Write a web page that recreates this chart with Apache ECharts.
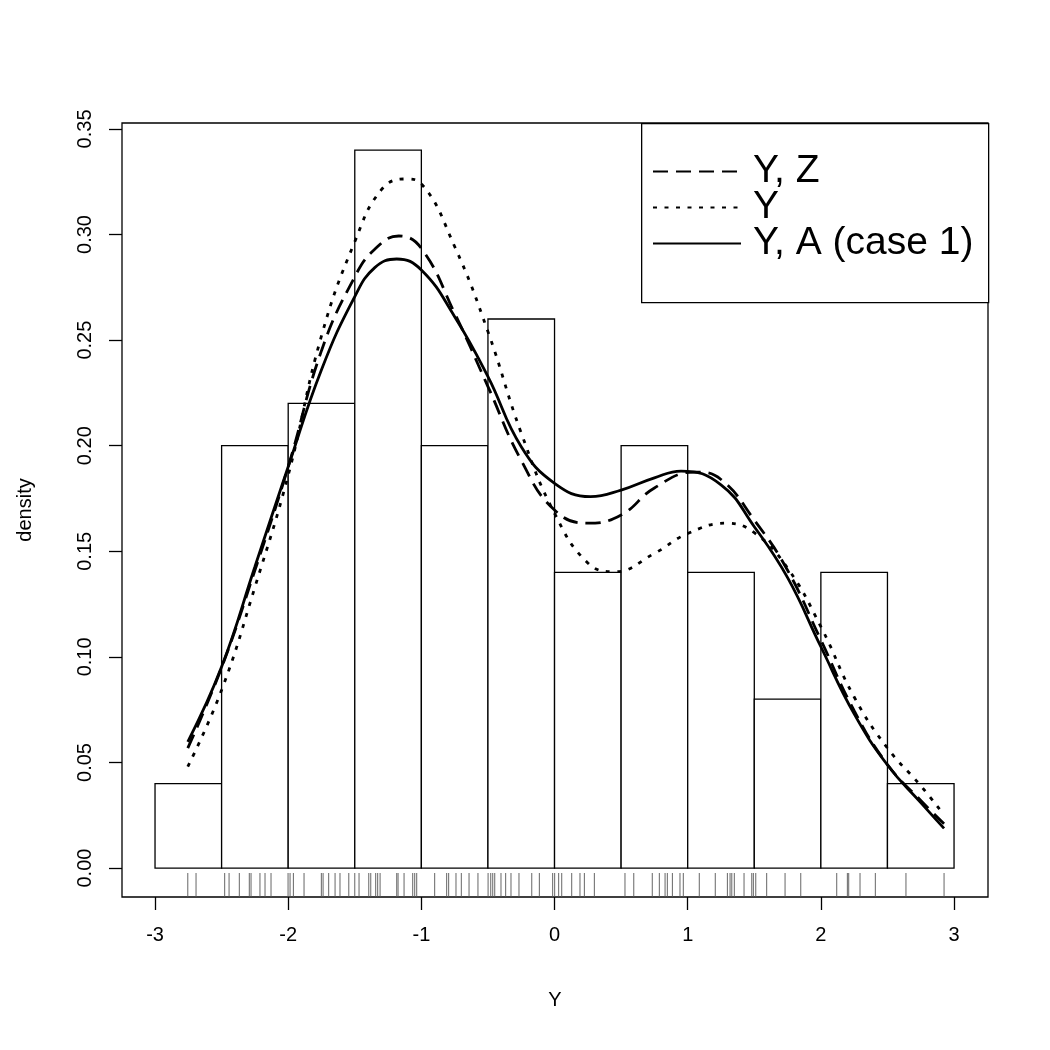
<!DOCTYPE html>
<html><head><meta charset="utf-8">
<script src="https://cdn.jsdelivr.net/npm/echarts@6/dist/echarts.min.js"></script>
<style>html,body{margin:0;padding:0;background:#fff}#c{width:1050px;height:1050px}</style>
</head><body><div id="c"></div>
<script>
// Histogram bins (left edges), width and density heights
const binStarts = [-3, -2.5, -2, -1.5, -1, -0.5, 0, 0.5, 1, 1.5, 2, 2.5];
const binWidth = 0.5;
const densities = [0.04, 0.20, 0.22, 0.34, 0.20, 0.26, 0.14, 0.20, 0.14, 0.08, 0.14, 0.04];

// Rug observations
const rugX = [-2.754, -2.692, -2.477, -2.444, -2.367, -2.292, -2.279, -2.212, -2.174, -2.129,
  -2.001, -1.986, -1.961, -1.881, -1.751, -1.738, -1.696, -1.648, -1.611, -1.545, -1.500,
  -1.468, -1.395, -1.380, -1.343, -1.328, -1.310, -1.185, -1.175, -1.130, -1.065, -1.050, -1.035,
  -0.900, -0.810, -0.795, -0.740, -0.700, -0.642, -0.575, -0.499, -0.479, -0.464, -0.449,
  -0.402, -0.367, -0.327, -0.267, -0.171, -0.114, -0.014, 0.001, 0.031, 0.054, 0.129, 0.191,
  0.224, 0.299, 0.529, 0.595, 0.734, 0.787, 0.830, 0.847, 0.885, 0.942, 0.967,
  1.087, 1.207, 1.298, 1.318, 1.331, 1.350, 1.423, 1.481, 1.493, 1.511, 1.593, 1.731, 1.849,
  2.119, 2.199, 2.209, 2.294, 2.409, 2.639, 2.925];

// Density curves (x positions and densities)
const xYZ = [-2.754, -2.5, -2.25, -2, -1.75, -1.5, -1.35, -1.17, -1, -0.75, -0.5, -0.25, 0,
  0.25, 0.5, 0.75, 1.05, 1.25, 1.5, 1.75, 2, 2.25, 2.5, 2.75, 2.925];
const densYZ = [0.0568, 0.095, 0.141, 0.190, 0.245, 0.280, 0.2930, 0.2993, 0.2934, 0.2627, 0.2280,
  0.1930, 0.1695, 0.1633, 0.1672, 0.1800, 0.1875, 0.1840, 0.1648, 0.1410, 0.108, 0.0745, 0.0490, 0.0320, 0.021];

const xY = [-2.754, -2.5, -2.25, -2, -1.75, -1.5, -1.3, -1.12, -1, -0.75, -0.5, -0.25, 0,
  0.25, 0.45, 0.75, 1, 1.29, 1.5, 1.75, 2, 2.25, 2.5, 2.75, 2.925];
const densY = [0.048, 0.0843, 0.133, 0.186, 0.252, 0.2966, 0.3212, 0.3263, 0.3240, 0.2943, 0.2540,
  0.2060, 0.1680, 0.1445, 0.1403, 0.1490, 0.1584, 0.1633, 0.1588, 0.1420, 0.1143, 0.0810, 0.0568, 0.0390, 0.0251];

const xYA = [-2.754, -2.5, -2.25, -2, -1.75, -1.5, -1.35, -1.185, -1, -0.75, -0.5, -0.25, 0,
  0.27, 0.5, 0.75, 0.95, 1.25, 1.5, 1.75, 2, 2.25, 2.5, 2.75, 2.925];
const densYA = [0.0598, 0.0953, 0.1427, 0.190, 0.236, 0.2706, 0.2843, 0.2884, 0.2832, 0.2611, 0.2327,
  0.1995, 0.1822, 0.1759, 0.1790, 0.1848, 0.1880, 0.1815, 0.1616, 0.1375, 0.1048, 0.0730, 0.0488, 0.0310, 0.0188];

const xTicks = [-3, -2, -1, 0, 1, 2, 3];
const yTicks = [0, 0.05, 0.10, 0.15, 0.20, 0.25, 0.30, 0.35];
const seriesNames = ['Y, Z', 'Y', 'Y, A (case 1)'];

const X_MIN = -3.248, X_MAX = 3.255, Y_MIN = -0.0137, Y_MAX = 0.3528;
const FONT = 'Liberation Sans, Arial, Helvetica, sans-serif';

const histData = binStarts.map((b, i) => [b, b + binWidth, densities[i]]);
const zip = (xs, ys) => xs.map((x, i) => [x, ys[i]]);

const chart = echarts.init(document.getElementById('c'), null, {renderer: 'canvas'});
chart.setOption({
  animation: false,
  backgroundColor: '#fff',
  textStyle: {fontFamily: FONT},
  grid: {left: 122, top: 123, width: 866, height: 774, show: true, borderColor: '#000', borderWidth: 1.3, backgroundColor: 'transparent'},
  graphic: [{
    type: 'rect', left: 641, top: 123, z: 50,
    shape: {width: 347, height: 179},
    style: {fill: '#fff', stroke: '#000', lineWidth: 1.3}
  }],
  legend: {
    orient: 'vertical', left: 652, top: 152, z: 60, padding: 0,
    itemWidth: 88, itemHeight: 20, itemGap: -3,
    itemStyle: {opacity: 0},
    textStyle: {fontSize: 39, color: '#000', fontFamily: FONT, padding: [0, 0, 0, 7]},
    data: seriesNames
  },
  xAxis: {
    type: 'value', min: X_MIN, max: X_MAX,
    name: 'Y', nameLocation: 'middle', nameGap: 93,
    nameTextStyle: {fontSize: 20, color: '#000', fontFamily: FONT},
    axisLine: {show: false, onZero: false},
    splitLine: {show: false},
    axisTick: {show: true, length: 13, customValues: xTicks, lineStyle: {color: '#000', width: 1.3}},
    axisLabel: {customValues: xTicks, margin: 28, fontSize: 20, color: '#000', fontFamily: FONT,
      formatter: v => String(v)}
  },
  yAxis: {
    type: 'value', min: Y_MIN, max: Y_MAX,
    name: 'density', nameLocation: 'middle', nameGap: 87, nameRotate: 90,
    nameTextStyle: {fontSize: 20, color: '#000', fontFamily: FONT},
    axisLine: {show: false, onZero: false},
    splitLine: {show: false},
    axisTick: {show: true, length: 13, customValues: yTicks, lineStyle: {color: '#000', width: 1.3}},
    axisLabel: {customValues: yTicks, rotate: 90, margin: 27, fontSize: 20, color: '#000', fontFamily: FONT,
      formatter: v => v.toFixed(2)}
  },
  series: [
    {
      type: 'custom', name: 'hist', silent: true, z: 1,
      data: histData,
      encode: {x: [0, 1], y: 2},
      renderItem: (params, api) => {
        const p0 = api.coord([api.value(0), 0]);
        const p1 = api.coord([api.value(1), api.value(2)]);
        return {type: 'rect', shape: {x: p0[0], y: p1[1], width: p1[0] - p0[0], height: p0[1] - p1[1]},
          style: {fill: '#fff', stroke: '#000', lineWidth: 1.3}};
      }
    },
    {
      type: 'custom', name: 'rug', silent: true, z: 2,
      data: rugX.map(x => [x]),
      encode: {x: 0},
      renderItem: (params, api) => {
        const p = api.coord([api.value(0), Y_MIN]);
        return {type: 'line', shape: {x1: p[0], y1: p[1], x2: p[0], y2: p[1] - 24},
          style: {stroke: '#555', lineWidth: 0.9}};
      }
    },
    {name: seriesNames[0], type: 'line', data: zip(xYZ, densYZ), smooth: 0.45, symbol: 'none', z: 5,
      lineStyle: {color: '#000', width: 2.8, type: [15, 8]}, itemStyle: {color: '#000'}},
    {name: seriesNames[1], type: 'line', data: zip(xY, densY), smooth: 0.45, symbol: 'none', z: 5,
      lineStyle: {color: '#000', width: 2.8, type: [4, 7.5], cap: 'butt'}, itemStyle: {color: '#000'}},
    {name: seriesNames[2], type: 'line', data: zip(xYA, densYA), smooth: 0.45, symbol: 'none', z: 5,
      lineStyle: {color: '#000', width: 2.8}, itemStyle: {color: '#000'}}
  ]
});
</script>
</body></html>
